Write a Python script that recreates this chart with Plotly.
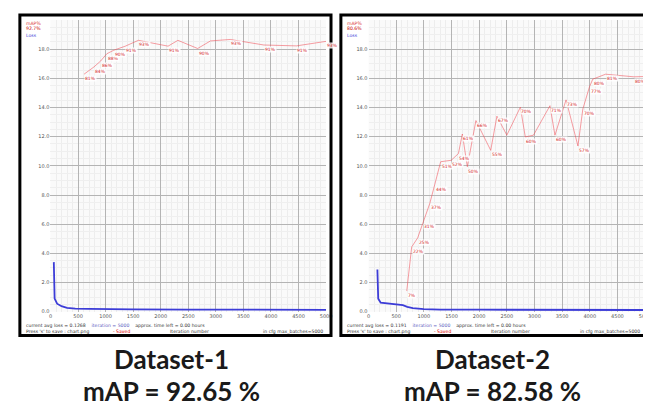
import plotly.graph_objects as go

# ---------------- data ----------------
max_batches = 5000
x_ticks = list(range(0, 5001, 500))
loss_max = 20
y_ticks = [0, 2, 4, 6, 8, 10, 12, 14, 16, 18, 20]

# Dataset-1
loss1_iter = [60, 75, 120, 200, 300, 450, 700, 1000, 1500, 2500, 3500, 5000]
loss1_val = [3.4, 0.9, 0.55, 0.38, 0.27, 0.22, 0.19, 0.17, 0.16, 0.15, 0.14, 0.13]
map1_iter = [609, 789, 909, 1022, 1147, 1357, 1595, 1864, 2133, 2312, 2670, 2903, 3262, 3871, 4462, 5000]
map1_val = [81.4, 83.9, 85.9, 88.4, 89.6, 91.0, 93.0, 92.0, 91.0, 93.0, 90.2, 92.8, 93.3, 91.4, 91.1, 92.65]

# Dataset-2
loss2_iter = [160, 175, 220, 350, 500, 620, 700, 800, 1000, 1300, 2000, 3000, 4000, 5000]
loss2_val = [2.9, 0.9, 0.62, 0.56, 0.52, 0.45, 0.34, 0.25, 0.18, 0.15, 0.14, 0.13, 0.12, 0.12]
map2_iter = [691, 780, 888, 982, 1107, 1196, 1304, 1495, 1625, 1696, 1786, 1941, 2209, 2321, 2500,
             2745, 2834, 2982, 3280, 3370, 3571, 3786, 3875, 3995, 4054, 4286, 4798, 5000]
map2_val = [7.1, 22.2, 25.3, 30.6, 37.1, 43.5, 51.4, 51.9, 54.2, 60.9, 49.7, 65.5, 55.3, 67.0, 60.5,
            70.1, 59.9, 60.5, 70.6, 60.5, 72.6, 56.8, 69.5, 77.1, 79.7, 81.4, 80.5, 80.6]

captions = ["Dataset-1", "Dataset-2"]
map_texts = ["mAP = 92.65 %", "mAP = 82.58 %"]
avg_loss = ["0.1268", "0.1191"]

# ---------------- layout helpers ----------------
W, H = 651, 407
def px(x):
    return x / W
def py(y):
    return 1 - y / H

panels = [
    dict(frame=(10, 7, 325, 330), plot=(41, 12, 320, 306), cap_x=164),
    dict(frame=(335, 7, 646, 330), plot=(363, 12, 643, 306), cap_x=488),
]

def labelled(iters, vals):
    """darknet-like rule: label a point when it jumps, sets a new max or after max_batches/10."""
    out = []
    old, best, text_old = 0.0, 0.0, 0
    for i, v in zip(iters, vals):
        if abs(old - v) > 10 or v > best or (i - text_old) >= max_batches / 10:
            out.append((i, v))
            text_old = i
            best = max(best, v)
        old = v
    return out

fig = go.Figure()
data_sets = [(loss1_iter, loss1_val, map1_iter, map1_val), (loss2_iter, loss2_val, map2_iter, map2_val)]

small_font = "DejaVu Sans"
annotations = []
shapes = []

for k, (p, (li, lv, mi, mv)) in enumerate(zip(panels, data_sets)):
    xa = "x" if k == 0 else "x2"
    ya = "y" if k == 0 else "y2"
    ym = "y3" if k == 0 else "y4"
    fig.add_trace(go.Scatter(x=li, y=lv, mode="lines", xaxis=xa, yaxis=ya,
                             line=dict(color="rgb(60,60,215)", width=1.8), hoverinfo="skip"))
    fig.add_trace(go.Scatter(x=mi, y=mv, mode="lines", xaxis=xa, yaxis=ym,
                             line=dict(color="rgba(240,80,90,0.7)", width=0.8), hoverinfo="skip"))
    for xi, vi in labelled(mi, mv):
        annotations.append(dict(x=xi, y=vi, xref=xa, yref=ym, text=f"{vi:.0f}%",
                                showarrow=False, xanchor="left", yanchor="top", yshift=-1,
                                font=dict(size=4.5, color="rgb(210,30,30)", family=small_font),
                                bgcolor="rgba(255,255,255,0.85)", borderpad=0))

    x0, y0, x1, y1 = p["frame"]
    shapes.append(dict(type="rect", xref="paper", yref="paper", x0=px(x0), x1=px(x1), y0=py(y1), y1=py(y0),
                       line=dict(color="black", width=3), fillcolor="rgba(0,0,0,0)", layer="above"))
    # bottom status text
    annotations.append(dict(xref="paper", yref="paper", x=px(x0 + 4), y=py(320), xanchor="left", yanchor="middle",
                            text=f"current avg loss = {avg_loss[k]}    <span style='color:#6060c0'>iteration = 5000</span>    approx. time left = 0.00 hours",
                            showarrow=False, font=dict(size=4.6, color="#333", family=small_font)))
    annotations.append(dict(xref="paper", yref="paper", x=px(x0 + 4), y=py(326), xanchor="left", yanchor="middle",
                            text="Press 's' to save : chart.png",
                            showarrow=False, font=dict(size=4.6, color="#333", family=small_font)))
    annotations.append(dict(xref="paper", yref="paper", x=px(x0 + 92), y=py(326), xanchor="left", yanchor="middle",
                            text="- Saved", showarrow=False, font=dict(size=4.6, color="rgb(220,0,0)", family=small_font)))
    annotations.append(dict(xref="paper", yref="paper", x=px(x0 + 150), y=py(326), xanchor="left", yanchor="middle",
                            text="Iteration number", showarrow=False, font=dict(size=4.6, color="#333", family=small_font)))
    annotations.append(dict(xref="paper", yref="paper", x=px(x1 - 6), y=py(326), xanchor="right", yanchor="middle",
                            text="in cfg max_batches=5000", showarrow=False, font=dict(size=4.6, color="#333", family=small_font)))
    # top-left labels
    annotations.append(dict(xref="paper", yref="paper", x=px(x0 + 4), y=py(16), xanchor="left", yanchor="middle",
                            text="mAP%", showarrow=False, font=dict(size=4.6, color="rgb(220,60,60)", family=small_font)))
    annotations.append(dict(xref="paper", yref="paper", x=px(x0 + 4), y=py(21), xanchor="left", yanchor="middle",
                            text=f"{mv[-1]:.1f}%", showarrow=False, font=dict(size=4.6, color="rgb(200,0,0)", family=small_font)))
    annotations.append(dict(xref="paper", yref="paper", x=px(x0 + 4), y=py(28), xanchor="left", yanchor="middle",
                            text="Loss", showarrow=False, font=dict(size=4.6, color="rgb(60,60,215)", family=small_font)))
    # captions
    annotations.append(dict(xref="paper", yref="paper", x=px(p["cap_x"]), y=py(354), xanchor="center", yanchor="middle",
                            text=f"<b>{captions[k]}</b>", showarrow=False,
                            font=dict(size=26, color="#1a1a1a", family="Lato")))
    annotations.append(dict(xref="paper", yref="paper", x=px(p["cap_x"]), y=py(386), xanchor="center", yanchor="middle",
                            text=f"<b>{map_texts[k]}</b>", showarrow=False,
                            font=dict(size=26, color="#1a1a1a", family="Lato")))

def xaxis_cfg(p):
    a, _, b, _ = p["plot"]
    return dict(domain=[px(a), px(b)], range=[0, max_batches], tickmode="array", tickvals=x_ticks,
                ticktext=[str(v) for v in x_ticks], tickfont=dict(size=5, color="#555", family=small_font),
                showgrid=True, gridcolor="#b4b4b4", gridwidth=1, zeroline=False, showline=False, ticks="",
                minor=dict(dtick=100, showgrid=True, gridcolor="#ededed", gridwidth=1), fixedrange=True)

def yaxis_cfg(p, anchor):
    _, t, _, b = p["plot"]
    return dict(domain=[py(b), py(t)], range=[0, loss_max], tickmode="array", tickvals=y_ticks,
                ticktext=[f"{v:.1f}" if v < loss_max else "" for v in y_ticks],
                tickfont=dict(size=5, color="#555", family=small_font), anchor=anchor,
                showgrid=True, gridcolor="#b4b4b4", gridwidth=1, zeroline=False, showline=False, ticks="",
                minor=dict(dtick=0.5, showgrid=True, gridcolor="#efefef", gridwidth=1), fixedrange=True)

fig.update_layout(
    width=W, height=H, margin=dict(l=0, r=0, t=0, b=0),
    paper_bgcolor="white", plot_bgcolor="#fafafa", showlegend=False,
    xaxis=xaxis_cfg(panels[0]), yaxis=yaxis_cfg(panels[0], "x"),
    xaxis2=xaxis_cfg(panels[1]), yaxis2=yaxis_cfg(panels[1], "x2"),
    yaxis3=dict(overlaying="y", anchor="x", range=[0, 100], visible=False, fixedrange=True),
    yaxis4=dict(overlaying="y2", anchor="x2", range=[0, 100], visible=False, fixedrange=True),
    annotations=annotations, shapes=shapes,
)

fig.write_html("out.html")
